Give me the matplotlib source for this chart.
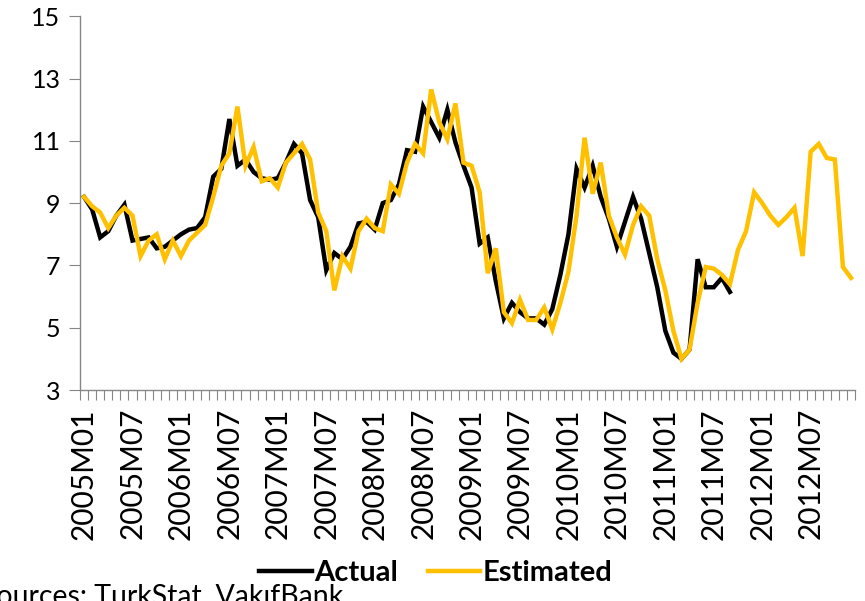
import numpy as np
import matplotlib
matplotlib.use("Agg")
import matplotlib.pyplot as plt

# monthly periods 2005M01 .. 2012M12
years = list(range(2005, 2013))
periods = [f"{y}M{m:02d}" for y in years for m in range(1, 13)]

# actual values (ends 2011M09)
actual = [
    9.2, 8.8, 7.9, 8.1, 8.6, 8.95, 7.8, 7.85, 7.9, 7.55, 7.6, 7.8,
    8.0, 8.15, 8.2, 8.55, 9.85, 10.1, 11.7, 10.2, 10.4, 10.0, 9.8, 9.75,
    9.8, 10.3, 10.9, 10.6, 9.1, 8.55, 6.85, 7.4, 7.2, 7.6, 8.35, 8.4,
    8.15, 9.0, 9.1, 9.6, 10.7, 10.65, 12.1, 11.6, 11.1, 12.0, 10.95, 10.2,
    9.5, 7.7, 7.9, 6.5, 5.3, 5.8, 5.5, 5.3, 5.3, 5.1, 5.6, 6.7,
    8.0, 10.1, 9.5, 10.2, 9.2, 8.5, 7.6, 8.4, 9.2, 8.5, 7.4, 6.3,
    4.9, 4.2, 4.0, 4.3, 7.2, 6.3, 6.3, 6.6, 6.15,
]

# estimated values (whole period)
estimated = [
    9.2, 8.9, 8.7, 8.2, 8.6, 8.85, 8.6, 7.3, 7.8, 8.0, 7.2, 7.8,
    7.3, 7.8, 8.05, 8.3, 9.2, 10.2, 10.6, 12.1, 10.2, 10.8, 9.7, 9.8,
    9.5, 10.3, 10.6, 10.9, 10.4, 8.7, 8.1, 6.2, 7.3, 6.9, 8.1, 8.5,
    8.2, 8.1, 9.6, 9.3, 10.3, 10.9, 10.6, 12.65, 11.6, 11.05, 12.2, 10.3,
    10.2, 9.35, 6.75, 7.55, 5.5, 5.15, 5.9, 5.25, 5.25, 5.65, 4.95, 5.8,
    6.8, 8.6, 11.1, 9.3, 10.3, 8.6, 7.9, 7.35, 8.3, 8.9, 8.6, 7.2,
    6.2, 4.9, 4.0, 4.3, 5.8, 6.95, 6.9, 6.7, 6.4, 7.5, 8.1, 9.35,
    9.0, 8.6, 8.3, 8.55, 8.85, 7.3, 10.65, 10.9, 10.45, 10.4, 6.95, 6.6,
]

y_ticks = [3, 5, 7, 9, 11, 13, 15]

plt.rcParams["font.family"] = ["Lato", "DejaVu Sans"]

fig = plt.figure(figsize=(8.65, 6.01), dpi=100)
ax = fig.add_axes([0.0925, 0.351, 0.896, 0.622])

x = np.arange(len(periods))
ax.plot(x[:len(actual)], actual, color="black", lw=3.2, label="Actual",
        solid_joinstyle="miter")
ax.plot(x, estimated, color="#FFC000", lw=3.2, label="Estimated",
        solid_joinstyle="miter")

ax.set_xlim(-0.5, len(periods) - 0.5)
ax.set_ylim(3, 15)
ax.set_yticks(y_ticks)
ax.set_yticklabels([str(v) for v in y_ticks], fontsize=18)

# labels every 6 months, tick marks between every category
ax.set_xticks(x[::6])
ax.set_xticklabels(periods[::6], rotation=90, fontsize=21.5)
ax.set_xticks(np.arange(-0.5, len(periods), 1), minor=True)
ax.tick_params(axis="x", which="major", length=0, pad=13)
ax.tick_params(axis="x", which="minor", length=7, width=0.8, color="#868686")
ax.tick_params(axis="y", length=8, width=0.8, color="#868686", pad=6)

for side in ["top", "right"]:
    ax.spines[side].set_visible(False)
for side in ["left", "bottom"]:
    ax.spines[side].set_color("#868686")
    ax.spines[side].set_linewidth(1.0)

leg = fig.legend(loc="center", bbox_to_anchor=(0.504, 0.047), ncol=2,
                 frameon=False, handlelength=1.8, handletextpad=0.1,
                 columnspacing=1.0, prop={"size": 21, "weight": "bold"})

# source note, partly cut at the left edge as in the original
fig.text(-0.022, 0.03, "Sources: TurkStat, VakıfBank", fontsize=20.5,
         va="top", ha="left")

fig.savefig("out.png", dpi=100)
